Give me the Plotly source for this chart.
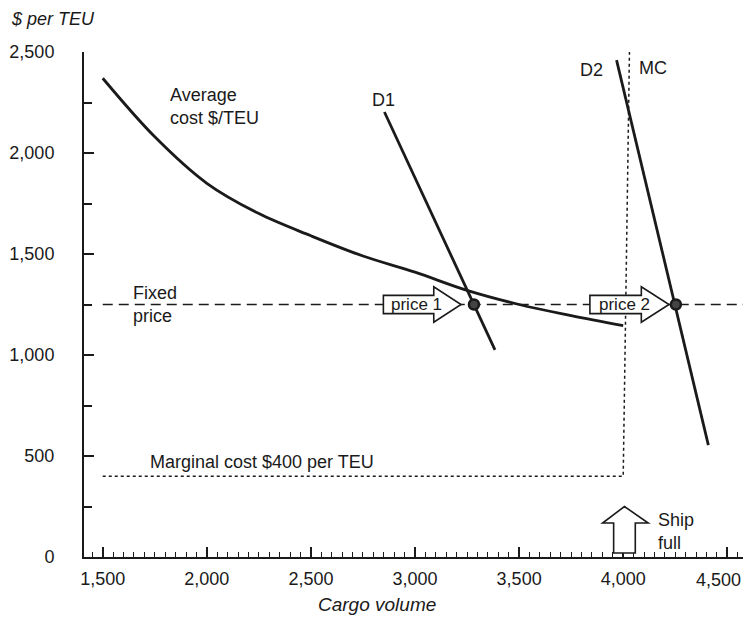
import plotly.graph_objects as go

# ---- data ----
ac_volume = [1500, 1750, 2000, 2250, 2500, 2750, 3000, 3250, 3500, 3750, 4000]
ac_cost = [2370, 2080, 1850, 1700, 1590, 1490, 1410, 1320, 1250, 1195, 1145]

d1_volume = [2853, 3384]
d1_price = [2203, 1025]

d2_volume = [3968, 4409]
d2_price = [2460, 554]

mc_volume = [1500, 4000, 4000, 4030]
mc_cost = [400, 400, 400, 2500]

fixed_price = 1250
fixed_volume = [1500, 4600]

price_points_volume = [3283, 4253]
price_labels = ["price 1", "price 2"]

ship_full_volume = 4006

x_ticks = [1500, 2000, 2500, 3000, 3500, 4000, 4500]
x_tick_labels = ["1,500", "2,000", "2,500", "3,000", "3,500", "4,000", "4,500"]
y_ticks = [0, 500, 1000, 1500, 2000, 2500]

FONT = "Liberation Sans, Arial, sans-serif"
INK = "#1a1a1a"

fig = go.Figure()

fig.add_trace(go.Scatter(x=ac_volume, y=ac_cost, mode="lines", line=dict(color=INK, width=2.8, shape="spline")))
fig.add_trace(go.Scatter(x=d1_volume, y=d1_price, mode="lines", line=dict(color=INK, width=2.8)))
fig.add_trace(go.Scatter(x=d2_volume, y=d2_price, mode="lines", line=dict(color=INK, width=2.8)))
fig.add_trace(go.Scatter(x=mc_volume, y=mc_cost, mode="lines", line=dict(color=INK, width=1.5, dash="dot")))
fig.add_trace(go.Scatter(x=fixed_volume, y=[fixed_price] * len(fixed_volume), mode="lines",
                         line=dict(color=INK, width=1.5, dash="10px,6px")))

shapes = []
annotations = []

# block arrows "price 1" / "price 2"
arrow_offsets = [(-435, -193, -62, -275), (-413, -166, -33, -247)]
for xv, lab, (tail, body, tip, tcx) in zip(price_points_volume, price_labels, arrow_offsets):
    y0 = fixed_price
    bh, hh = 45, 88
    path = (f"M {xv+tail},{y0-bh} L {xv+body},{y0-bh} L {xv+body},{y0-hh} L {xv+tip},{y0} "
            f"L {xv+body},{y0+hh} L {xv+body},{y0+bh} L {xv+tail},{y0+bh} Z")
    shapes.append(dict(type="path", path=path, xref="x", yref="y", line=dict(color=INK, width=1.6),
                       fillcolor="white", layer="above"))
    annotations.append(dict(x=xv + tcx, y=y0, xref="x", yref="y", text=lab, showarrow=False,
                            font=dict(family=FONT, size=17, color=INK)))

fig.add_trace(go.Scatter(x=price_points_volume, y=[fixed_price] * 2, mode="markers",
                         marker=dict(size=10, color="#444444", line=dict(color=INK, width=2.5))))

# ship full arrow
sx = ship_full_volume
ship_path = (f"M {sx-52},20 L {sx+52},20 L {sx+52},168 L {sx+114},168 L {sx},250 "
             f"L {sx-105},168 L {sx-52},168 Z")
shapes.append(dict(type="path", path=ship_path, xref="x", yref="y", line=dict(color=INK, width=1.6),
                   fillcolor="white", layer="above"))

def txt(x, y, s, xanchor="left", yanchor="middle", italic=False, xref="x", yref="y", size=18):
    annotations.append(dict(x=x, y=y, xref=xref, yref=yref, text=(f"<i>{s}</i>" if italic else s),
                            showarrow=False, xanchor=xanchor, yanchor=yanchor, align="left",
                            font=dict(family=FONT, size=size, color=INK)))

txt(1812, 2345, "Average<br>cost $/TEU", yanchor="top")
txt(2848, 2262, "D1", xanchor="center")
txt(3849, 2411, "D2", xanchor="center")
txt(4144, 2421, "MC", xanchor="center")
txt(1638, 1307, "Fixed")
txt(1638, 1193, "price")
txt(1719, 470, "Marginal cost $400 per TEU")
txt(4158, 124, "Ship<br>full", yanchor="middle")
txt(-0.113, 1.065, "$ per TEU", italic=True, xref="paper", yref="paper", yanchor="middle", size=18)
txt(0.44, -0.095, "Cargo volume", xanchor="center", italic=True, xref="paper", yref="paper", yanchor="middle", size=19)

# the last x tick label sits at the very right edge of the page; draw it right-anchored so it is not clipped
tick_texts = x_tick_labels[:-1] + [""]
annotations.append(dict(x=0.9895, y=0, xref="paper", yref="paper", yshift=-23, text=x_tick_labels[-1],
                        showarrow=False, xanchor="right", yanchor="middle",
                        font=dict(family=FONT, size=18, color=INK)))

# the page body adds an 8px margin; size the figure so the plot lands where the reference has it
fig.update_layout(
    width=743, height=610,
    margin=dict(l=68, r=1, t=44, b=61),
    paper_bgcolor="white", plot_bgcolor="white",
    showlegend=False,
    shapes=shapes, annotations=annotations,
    font=dict(family=FONT, size=18, color=INK),
    xaxis=dict(range=[1410, 4609], tickvals=x_ticks, ticktext=tick_texts, ticks="inside", ticklen=10,
               tickwidth=1.5, tickcolor=INK, showline=True, linecolor=INK, linewidth=2,
               showgrid=False, zeroline=False, ticklabelstandoff=4,
               minor=dict(dtick=50, tick0=1500, ticks="inside", ticklen=5, tickwidth=1, tickcolor=INK, showgrid=False),
               tickfont=dict(family=FONT, size=18, color=INK)),
    yaxis=dict(range=[0, 2500], tickvals=y_ticks, tickformat=",d", ticks="inside", ticklen=10,
               tickwidth=1.5, tickcolor=INK, showline=True, linecolor=INK, linewidth=2,
               showgrid=False, zeroline=False, ticklabelstandoff=24,
               minor=dict(dtick=250, tick0=0, ticks="inside", ticklen=8, tickwidth=1.5, tickcolor=INK, showgrid=False),
               tickfont=dict(family=FONT, size=18, color=INK)),
)

fig.write_html("out.html")
